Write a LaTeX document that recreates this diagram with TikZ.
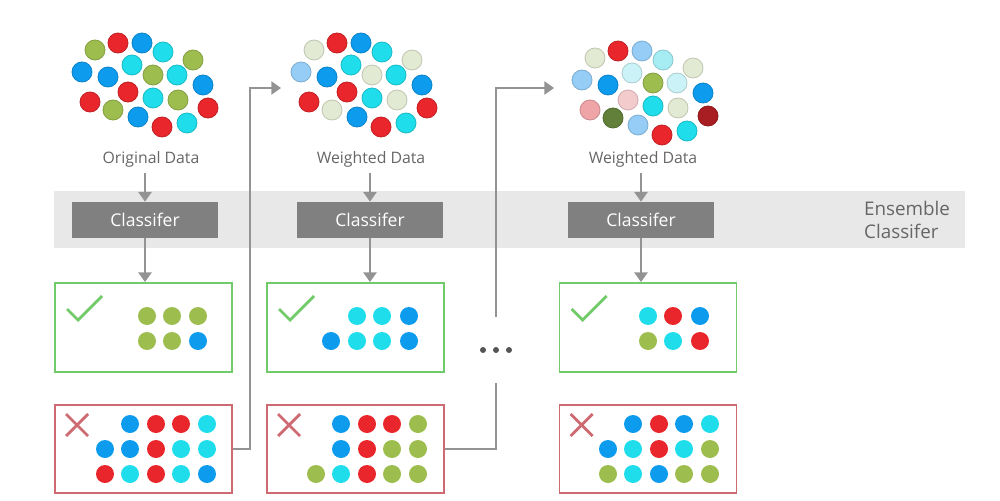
\documentclass[tikz,border=0pt]{standalone}
\usepackage{fontspec}
\setmainfont{Open Sans}
\usetikzlibrary{arrows.meta}
\definecolor{lg}{HTML}{9DBD4F}
\definecolor{bl}{HTML}{0D9BEE}
\definecolor{rd}{HTML}{E8262B}
\definecolor{cy}{HTML}{1FDDEA}
\definecolor{pg}{HTML}{E3EAD3}
\definecolor{lb}{HTML}{95CDF6}
\definecolor{mc}{HTML}{A5EDF3}
\definecolor{pc}{HTML}{CBF3F7}
\definecolor{pp}{HTML}{F4CBCD}
\definecolor{pk}{HTML}{EFA4A7}
\definecolor{dr}{HTML}{A81E22}
\definecolor{dg}{HTML}{62803A}
\definecolor{txtgray}{HTML}{666666}
\definecolor{clfgray}{HTML}{808080}
\definecolor{bandgray}{HTML}{E8E8E8}
\definecolor{linegray}{HTML}{939393}
\definecolor{okgreen}{HTML}{72CB6A}
\definecolor{badred}{HTML}{CE6A72}
\definecolor{dotgray}{HTML}{555555}
\begin{document}
\begin{tikzpicture}[x=0.02cm,y=-0.02cm,
  lbl/.style={text=txtgray,font=\fontsize{9}{11}\selectfont},
  clf/.style={fill=clfgray,text=white,minimum width=2.92cm,minimum height=0.72cm,inner sep=0pt,font=\fontsize{10}{12}\selectfont},
  okbox/.style={draw=okgreen,line width=1.1pt,minimum width=3.54cm,minimum height=1.78cm,inner sep=0pt},
  badbox/.style={draw=badred,line width=1.1pt,minimum width=3.54cm,minimum height=1.76cm,inner sep=0pt},
  conn/.style={draw=linegray,line width=1.1pt,-{Triangle[length=5.5pt,width=7.5pt]}},
  link/.style={draw=linegray,line width=1.1pt},
  tickmark/.style={draw=okgreen,line width=1.6pt},
  crossmark/.style={draw=badred,line width=1.6pt},
  ball/.style={fill=#1,draw=#1!85!black,line width=0.5pt}]
\useasboundingbox (0,0) rectangle (1000,500);
% band behind the classifiers
\fill[bandgray] (54,191) rectangle (965,248);
\node[text=txtgray,anchor=west,align=left,font=\fontsize{10.7}{13}\selectfont] (ens) at (858,220) {Ensemble\\Classifer};
% data clouds
\foreach \x/\y/\c in {95/50/lg,118/43/rd,142/43/bl,163/52/cy,193/60/lg,82/72/bl,108/77/bl,132/65/cy,153/75/lg,177/75/cy,203/85/bl,128/92/rd,90/102/rd,153/98/cy,178/100/lg,208/108/rd,113/110/lg,138/117/bl,162/127/rd,187/123/cy}
  \filldraw[ball=\c] (\x,\y) circle (10);
\begin{scope}[shift={(219,0)}]
\foreach \x/\y/\c in {95/50/pg,118/43/rd,142/43/bl,163/52/cy,193/60/pg,82/72/lb,108/77/bl,132/65/cy,153/75/pg,177/75/cy,203/85/bl,128/92/rd,90/102/rd,153/98/cy,178/100/pg,208/108/rd,113/110/pg,138/117/bl,162/127/rd,187/123/cy}
  \filldraw[ball=\c] (\x,\y) circle (10);
\end{scope}
\begin{scope}[shift={(500,8)}]
\foreach \x/\y/\c in {95/50/pg,118/43/rd,142/43/lb,163/52/mc,193/60/pg,82/72/lb,108/77/bl,132/65/pc,153/75/lg,177/75/pc,203/85/bl,128/92/pp,90/102/pk,153/98/cy,178/100/pg,208/108/dr,113/110/dg,138/117/lb,162/127/rd,187/123/cy}
  \filldraw[ball=\c] (\x,\y) circle (10);
\end{scope}
\node[lbl] (lab1) at (151,159) {Original Data};
\node[lbl] (lab2) at (371,159) {Weighted Data};
\node[lbl] (lab3) at (643,159) {Weighted Data};
% classifiers
\node[clf] (clf1) at (145,220) {Classifer};
\node[clf] (clf2) at (370,220) {Classifer};
\node[clf] (clf3) at (641,220) {Classifer};
% result boxes
\node[okbox] (ok1) at (143.5,327.5) {};
\node[okbox] (ok2) at (355.5,327.5) {};
\node[okbox] (ok3) at (648,327.5) {};
\node[badbox] (bad1) at (143.5,449) {};
\node[badbox] (bad2) at (355.5,449) {};
\node[badbox] (bad3) at (648,449) {};
\node[minimum width=0.6cm,minimum height=1.32cm,inner sep=0pt] (dots) at (496,350) {};
\foreach \i in {1,2,3}{
  \draw[conn] (lab\i.south -| clf\i.north) -- (clf\i.north);
  \draw[conn] (clf\i.south) -- (clf\i.south |- ok\i.north);
  \draw[tickmark] ([shift={(13,27)}]ok\i.north west) -- ++(11,11) -- ++(24,-24);
  \draw[crossmark] ([shift={(12,10)}]bad\i.north west) -- ++(22,22) ++(0,-22) -- ++(-22,22);
}
% votes
\foreach \x/\y/\c in {147/316/lg,172/316/lg,198/316/lg,147/341/lg,172/341/lg,198/341/bl,
  130/424/bl,156/424/rd,181/424/rd,207/424/cy,105/449/bl,130/449/bl,156/449/rd,181/449/cy,207/449/cy,105/474/rd,130/474/cy,156/474/rd,181/474/cy,207/474/bl,
  357/316/cy,382/316/cy,409/316/bl,331/341/bl,357/341/cy,382/341/cy,409/341/bl,
  341/424/bl,367/424/rd,392/424/rd,418/424/lg,341/449/bl,367/449/rd,392/449/lg,418/449/lg,316/474/lg,341/474/cy,367/474/rd,392/474/lg,418/474/lg,
  648/316/cy,673/316/rd,700/316/bl,648/341/lg,673/341/cy,700/341/rd,
  633/424/bl,659/424/rd,684/424/bl,710/424/cy,608/449/bl,633/449/cy,659/449/rd,684/449/cy,710/449/lg,608/474/lg,633/474/cy,659/474/bl,684/474/lg,710/474/lg}
  \fill[\c] (\x,\y) circle (9);
% reweighting paths
\coordinate (in2) at (281,88);
\coordinate (in3) at (554,88);
\draw[conn] (bad1.east) -- ++(17,0) |- (in2);
\draw[link] (bad2.east) -| (dots.south);
\draw[conn] (dots.north) |- (in3);
\foreach \dx in {-13,0,13}
  \fill[dotgray] ([xshift=\dx*0.02cm]dots.center) circle (3);
\end{tikzpicture}
\end{document}
